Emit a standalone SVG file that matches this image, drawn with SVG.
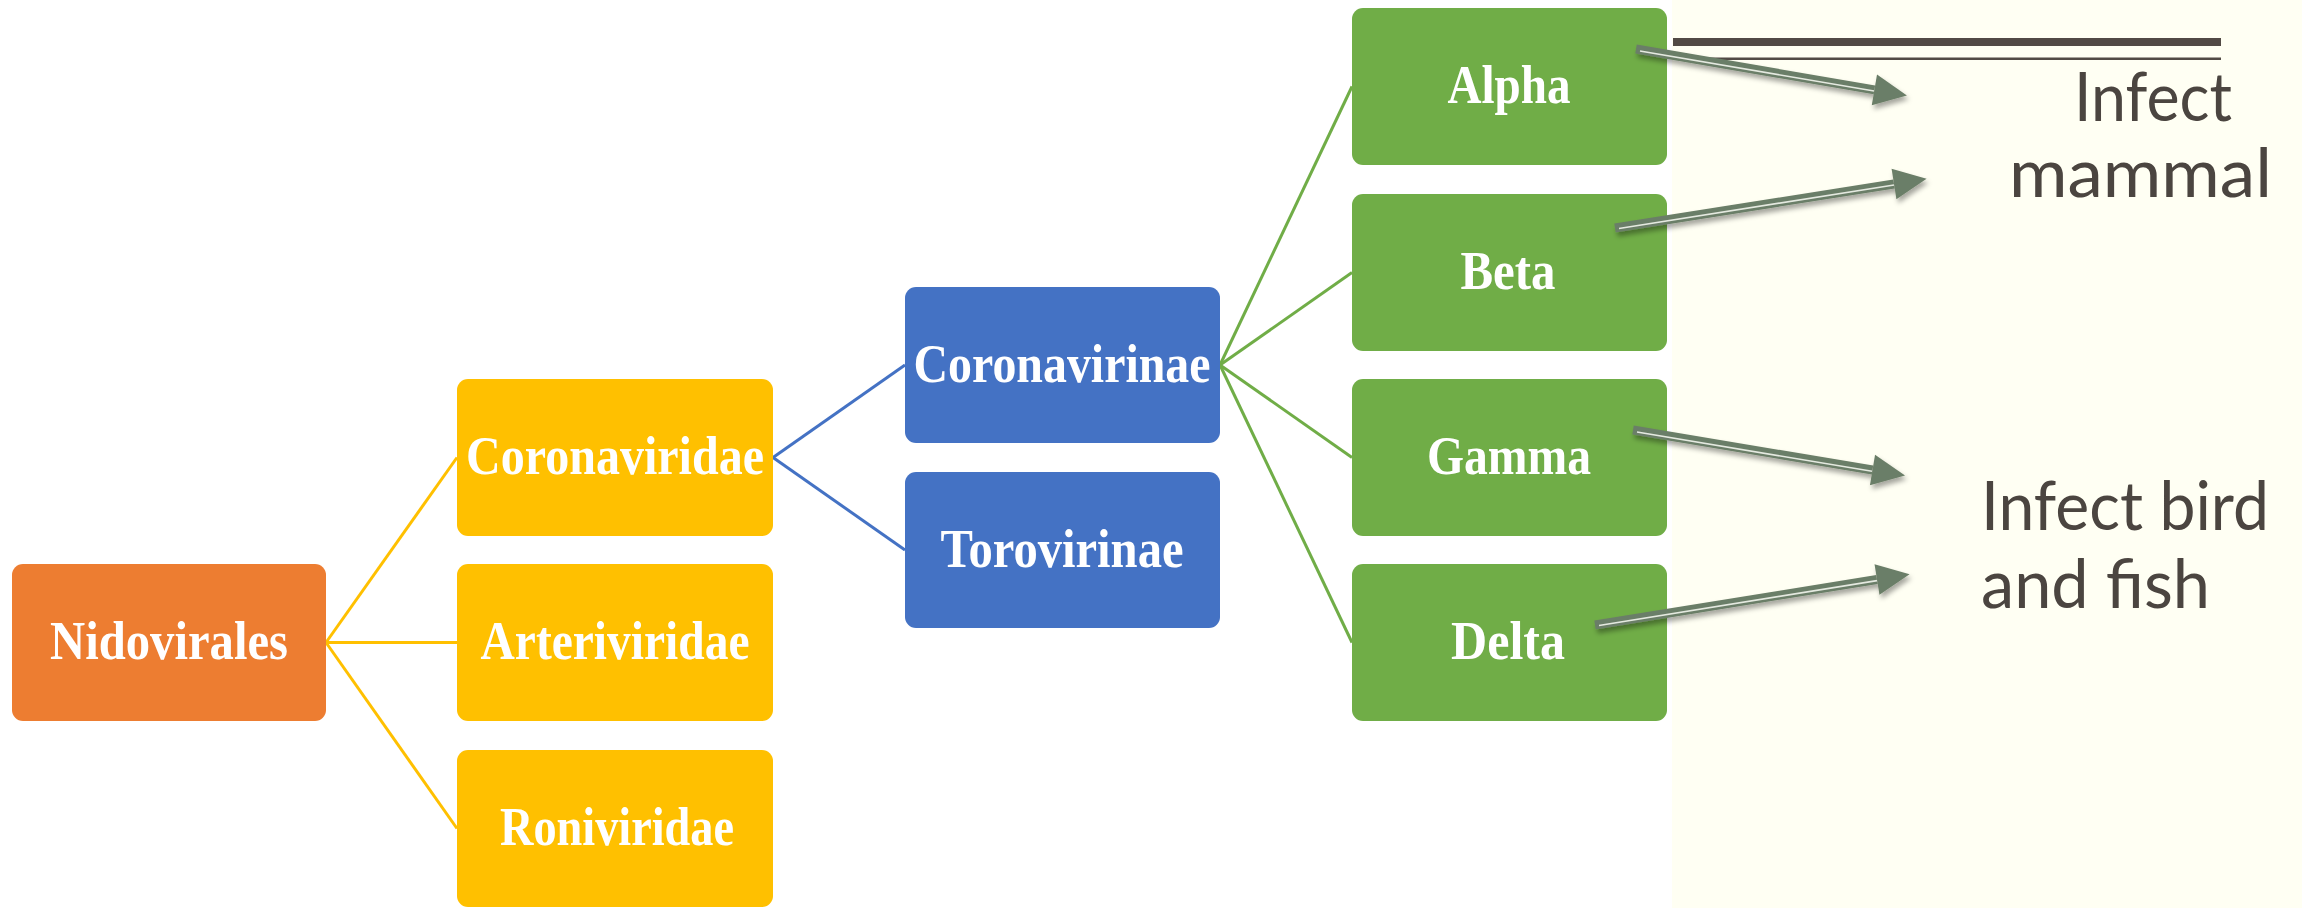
<svg xmlns="http://www.w3.org/2000/svg" width="2302" height="908" viewBox="0 0 2302 908">
  <defs>
    <style>
      .box { stroke: none; }
      .orange { fill: #ED7D31; }
      .yellow { fill: #FFC000; }
      .blue { fill: #4472C4; }
      .green { fill: #70AD47; }
      .lbl { font-family: "Liberation Serif", "Times New Roman", serif; font-weight: bold; font-size: 55px; fill: #FFFFFF; text-anchor: middle; }
      .side { font-family: Lato, "Open Sans", sans-serif; font-weight: 400; font-size: 68px; fill: #4B4540; }
      .cy { stroke: #FFC000; stroke-width: 3; fill: none; }
      .cb { stroke: #4472C4; stroke-width: 3; fill: none; }
      .cg { stroke: #70AD47; stroke-width: 3; fill: none; }
      .shaft { stroke: #6B7E67; stroke-width: 9; fill: none; marker-end: url(#head); }
      .stripe { stroke: #E4E9E0; stroke-width: 1.6; fill: none; }
    </style>
    <marker id="head" markerUnits="userSpaceOnUse" markerWidth="40" markerHeight="40" refX="0" refY="0" orient="auto" viewBox="-2 -20 40 40" overflow="visible">
      <path d="M0,-15.5 L33,0 L0,15.5 Z" fill="#6B7E67"/>
    </marker>
    <filter id="shadow" x="-10%" y="-30%" width="130%" height="180%">
      <feDropShadow dx="2" dy="4" stdDeviation="2.5" flood-color="#000000" flood-opacity="0.35"/>
    </filter>
  </defs>

  <rect x="0" y="0" width="2302" height="908" fill="#FFFFFF"/>
  <rect x="1672" y="0" width="630" height="908" fill="#FFFFF3"/>

  <g id="rules">
    <rect x="1673" y="38" width="548" height="8" fill="#524A45"/>
    <rect x="1673" y="57.5" width="548" height="2.5" fill="#524A45"/>
  </g>

  <g id="connectors">
    <line class="cy" x1="326" y1="642.5" x2="457" y2="457.5"/>
    <line class="cy" x1="326" y1="642.5" x2="457" y2="642.5"/>
    <line class="cy" x1="326" y1="642.5" x2="457" y2="828.5"/>
    <line class="cb" x1="773" y1="457.5" x2="905" y2="365"/>
    <line class="cb" x1="773" y1="457.5" x2="905" y2="550"/>
    <line class="cg" x1="1220" y1="365" x2="1352" y2="86.5"/>
    <line class="cg" x1="1220" y1="365" x2="1352" y2="272.5"/>
    <line class="cg" x1="1220" y1="365" x2="1352" y2="457.5"/>
    <line class="cg" x1="1220" y1="365" x2="1352" y2="642.5"/>
  </g>

  <g id="node-nidovirales">
    <rect class="box orange" x="12" y="564" width="314" height="157" rx="11"/>
    <text class="lbl" x="169" y="659" textLength="238" lengthAdjust="spacingAndGlyphs">Nidovirales</text>
  </g>
  <g id="node-coronaviridae">
    <rect class="box yellow" x="457" y="379" width="316" height="157" rx="11"/>
    <text class="lbl" x="615" y="474" textLength="298" lengthAdjust="spacingAndGlyphs">Coronaviridae</text>
  </g>
  <g id="node-arteriviridae">
    <rect class="box yellow" x="457" y="564" width="316" height="157" rx="11"/>
    <text class="lbl" x="615" y="659" textLength="269" lengthAdjust="spacingAndGlyphs">Arteriviridae</text>
  </g>
  <g id="node-roniviridae">
    <rect class="box yellow" x="457" y="750" width="316" height="157" rx="11"/>
    <text class="lbl" x="617" y="845" textLength="234" lengthAdjust="spacingAndGlyphs">Roniviridae</text>
  </g>
  <g id="node-coronavirinae">
    <rect class="box blue" x="905" y="287" width="315" height="156" rx="11"/>
    <text class="lbl" x="1062" y="382" textLength="297" lengthAdjust="spacingAndGlyphs">Coronavirinae</text>
  </g>
  <g id="node-torovirinae">
    <rect class="box blue" x="905" y="472" width="315" height="156" rx="11"/>
    <text class="lbl" x="1062" y="567" textLength="243" lengthAdjust="spacingAndGlyphs">Torovirinae</text>
  </g>
  <g id="node-alpha">
    <rect class="box green" x="1352" y="8" width="315" height="157" rx="11"/>
    <text class="lbl" x="1509" y="103" textLength="123" lengthAdjust="spacingAndGlyphs">Alpha</text>
  </g>
  <g id="node-beta">
    <rect class="box green" x="1352" y="194" width="315" height="157" rx="11"/>
    <text class="lbl" x="1508" y="289" textLength="95" lengthAdjust="spacingAndGlyphs">Beta</text>
  </g>
  <g id="node-gamma">
    <rect class="box green" x="1352" y="379" width="315" height="157" rx="11"/>
    <text class="lbl" x="1509" y="474" textLength="164" lengthAdjust="spacingAndGlyphs">Gamma</text>
  </g>
  <g id="node-delta">
    <rect class="box green" x="1352" y="564" width="315" height="157" rx="11"/>
    <text class="lbl" x="1508" y="659" textLength="114" lengthAdjust="spacingAndGlyphs">Delta</text>
  </g>

  <g id="arrows" filter="url(#shadow)">
    <line class="shaft" x1="1636" y1="49" x2="1874.4" y2="89.9"/>
    <line class="stripe" x1="1640" y1="51" x2="1874" y2="91"/>
    <line class="shaft" x1="1615" y1="228" x2="1894" y2="184"/>
    <line class="stripe" x1="1619" y1="228.5" x2="1894" y2="185"/>
    <line class="shaft" x1="1633" y1="430" x2="1872.5" y2="470"/>
    <line class="stripe" x1="1637" y1="432" x2="1872" y2="471.3"/>
    <line class="shaft" x1="1595" y1="625" x2="1877" y2="579.5"/>
    <line class="stripe" x1="1599" y1="625.5" x2="1877" y2="580.6"/>
  </g>

  <g id="label-mammal">
    <text class="side" x="2074" y="121" textLength="158" lengthAdjust="spacingAndGlyphs">Infect</text>
    <text class="side" x="2009" y="197" textLength="263" lengthAdjust="spacingAndGlyphs">mammal</text>
  </g>
  <g id="label-bird-fish">
    <text class="side" x="1981" y="530" textLength="288" lengthAdjust="spacingAndGlyphs">Infect bird</text>
    <text class="side" x="1981" y="608" textLength="229" lengthAdjust="spacingAndGlyphs">and fish</text>
  </g>
</svg>
